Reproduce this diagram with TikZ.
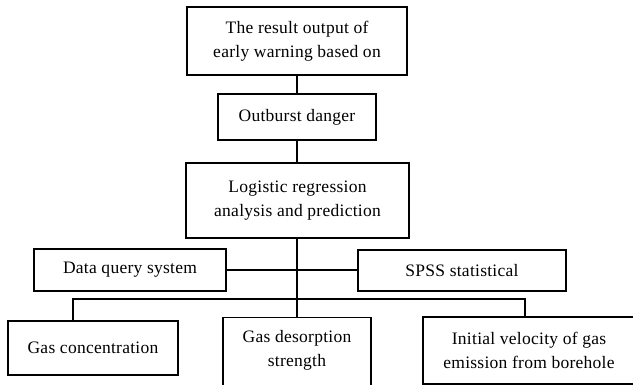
\documentclass[tikz,border=0pt]{standalone}
\usepackage{fontspec}
\setmainfont[LetterSpace=1.5]{Liberation Serif}
\begin{document}
\begin{tikzpicture}[x=1pt,y=-1pt,
  txt/.style={align=center,inner sep=0pt,font=\fontsize{17.5}{24}\selectfont},
  box/.style={txt,draw=black,line width=1.1pt},
  conn/.style={draw=black,line width=1.1pt}]
\useasboundingbox (0,0) rectangle (633,385);
\clip (0,0) rectangle (633,385);
\node[box,minimum width=220,minimum height=68] (top) at (297,41) {The result output of\\early warning based on};
\node[box,minimum width=158,minimum height=46] (out) at (297,117) {Outburst danger};
\node[box,minimum width=223,minimum height=75] (logi) at (297.5,200.5) {Logistic regression\\analysis and prediction};
\node[box,minimum width=192,minimum height=42] (data) at (130,270) {Data query system};
\node[box,minimum width=208,minimum height=41] (spss) at (462,270.5) {SPSS statistical};
\node[box,minimum width=170,minimum height=54] (gasc) at (93,348) {Gas concentration};
\node[draw=black,line width=1.1pt,inner sep=0pt,minimum width=148,minimum height=80,anchor=north] (desorp) at (297,317) {};
\node[txt] (desorptxt) at (297,350) {Gas desorption\\strength};
\node[box,minimum width=212,minimum height=67] (vel) at (529,350.5) {Initial velocity of gas\\emission from borehole};
\coordinate (busL) at (73,299);
\coordinate (busR) at (525,299);
\draw[conn] (top.south) -- (out.north);
\draw[conn] (out.south) -- (out.south |- logi.north);
\draw[conn] (logi.south -| desorp.north) -- (desorp.north);
\draw[conn] (data.east) -- (spss.west |- data.east);
\draw[conn] (busL |- gasc.north) -- (busL) -- (busR) -- (busR |- vel.north);
\end{tikzpicture}
\end{document}
